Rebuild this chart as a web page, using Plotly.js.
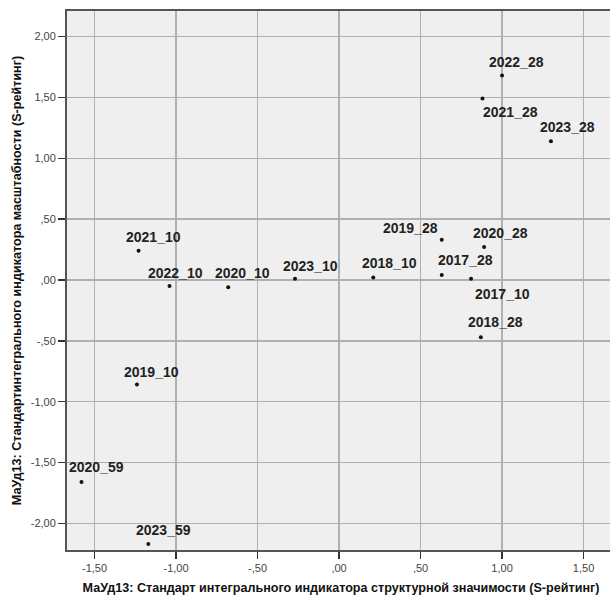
<!DOCTYPE html>
<html>
<head>
<meta charset="utf-8">
<script src="https://cdn.plot.ly/plotly-3.0.1.min.js"></script>
<style>
html,body{margin:0;padding:0;overflow:hidden;background:#fff;}
#chart{width:620px;height:602px;}
</style>
</head>
<body>
<div id="chart"></div>
<script>
// ---- data ----
const pointLabels = ["2021_10","2022_10","2020_10","2023_10","2018_10","2019_28","2017_28","2020_28","2017_10","2022_28","2021_28","2023_28","2018_28","2019_10","2020_59","2023_59"];
const structuralS = [-1.23,-1.04,-0.68,-0.27,0.21,0.63,0.63,0.89,0.81,1.00,0.88,1.30,0.87,-1.24,-1.58,-1.17];
const scaleS      = [0.24,-0.05,-0.06,0.01,0.02,0.33,0.04,0.27,0.01,1.68,1.49,1.14,-0.47,-0.86,-1.66,-2.17];
const xTickVals = [-1.5,-1.0,-0.5,0,0.5,1.0,1.5];
const xTickText = ["-1,50","-1,00","-,50",",00",",50","1,00","1,50"];
const yTickVals = [-2.0,-1.5,-1.0,-0.5,0,0.5,1.0,1.5,2.0];
const yTickText = ["-2,00","-1,50","-1,00","-,50",",00",",50","1,00","1,50","2,00"];
const xTitle = "МаУд13: Стандарт интегрального индикатора структурной значимости (S-рейтинг)";
const yTitle = "МаУд13: Стандартинтегрального индикатора масштабности (S-рейтинг)";

// ---- label offsets (pixels), style only ----
const labelDX = [15,6,14,15,16,-31,24,16,31,14,28,17,15,15,15,15];
const labelDY = [14,13,14,13,15,12,15,14,-15,14,-13,14,15,13,15,14];

const annotations = pointLabels.map((t,i)=>({
  x: structuralS[i], y: scaleS[i], xref:'x', yref:'y',
  text: t, showarrow:false, xanchor:'center', yanchor:'middle',
  xshift: labelDX[i], yshift: labelDY[i],
  font:{family:'Liberation Sans, Arial, sans-serif', size:14, color:'#222', weight:'bold'}
}));

const trace = {
  type:'scatter', mode:'markers',
  x: structuralS, y: scaleS, text: pointLabels,
  marker:{color:'#111', size:4},
  hoverinfo:'text'
};

const axisCommon = {
  showgrid:true, gridcolor:'#b0b0b0', gridwidth:1.5,
  zeroline:false, showline:true, linecolor:'#555', linewidth:2, mirror:true,
  ticks:'outside', ticklen:7, tickwidth:1.5, tickcolor:'#333',
  tickfont:{family:'Liberation Sans, Arial, sans-serif', size:11, color:'#444'},
  tickmode:'array', fixedrange:true
};

const titleFont = {family:'Liberation Sans, Arial, sans-serif', size:12.6, color:'#111', weight:'bold'};

const layout = {
  width:620, height:602,
  margin:{l:67, r:5, t:11, b:52},
  paper_bgcolor:'#fff', plot_bgcolor:'#efefef',
  showlegend:false,
  xaxis: Object.assign({}, axisCommon, {
    range:[-1.669,1.693], tickvals:xTickVals, ticktext:xTickText,
    title:{text:xTitle, standoff:10, font:titleFont}
  }),
  yaxis: Object.assign({}, axisCommon, {
    range:[-2.219,2.210], tickvals:yTickVals, ticktext:yTickText,
    title:{text:yTitle, standoff:6, font:titleFont}
  }),
  annotations: annotations
};

Plotly.newPlot('chart',[trace],layout,{displayModeBar:false, staticPlot:true});
</script>
</body>
</html>
